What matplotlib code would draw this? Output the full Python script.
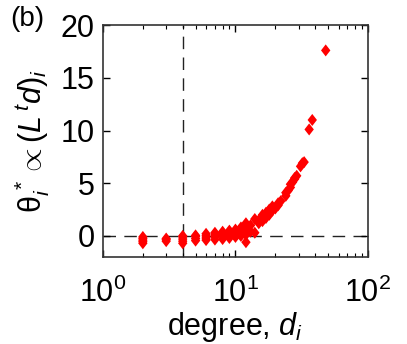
import matplotlib
matplotlib.use("Agg")
import matplotlib.pyplot as plt
from matplotlib.path import Path
import numpy as np

plt.rcParams['font.family'] = ['Liberation Sans', 'DejaVu Sans']
plt.rcParams['mathtext.fontset'] = 'custom'
plt.rcParams['mathtext.rm'] = 'Liberation Sans'
plt.rcParams['mathtext.it'] = 'Liberation Sans:italic'
plt.rcParams['mathtext.sf'] = 'Liberation Sans'

degrees = [2]*5 + [3]*3 + [4]*5 + [5]*4 + [6]*4 + [7]*4 + [8]*4 + [9]*4 + [10]*4 + [11]*4 + [12]*5 \
    + [13, 13, 14, 14, 15, 15, 16, 16, 16, 17, 17, 18, 18, 19, 19, 20, 21, 21, 22, 24, 24, 25,
       26, 26, 27, 28, 28, 29, 31, 32, 33, 36, 38, 48]
values = [-0.7, -0.55, -0.4, -0.25, -0.1,
          -0.5, -0.35, -0.25,
          -0.7, -0.5, -0.3, -0.1, 0.0,
          -0.45, -0.25, -0.05, 0.05,
          -0.4, -0.2, 0.0, 0.2,
          -0.35, -0.1, 0.1, 0.3,
          -0.3, 0.0, 0.2, 0.4,
          -0.2, 0.1, 0.35, 0.5,
          -0.1, 0.2, 0.4, 0.6,
          0.0, 0.3, 0.6, 0.8,
          -0.6, 0.1, 0.5, 0.9, 1.2,
          0.4, 1.0, 0.3, 1.6, 1.2, 1.5, 1.4, 1.8, 2.0, 1.7, 2.2, 2.0, 2.5, 2.4, 2.8, 2.6,
          3.1, 2.9, 3.3, 3.8, 4.1, 4.3, 4.6, 4.9, 5.1, 5.5, 5.4, 5.7, 6.6, 6.9, 7.0,
          10.1, 11.0, 17.6]

vline_x = 4
hline_y = 0

diamond = Path([(0, 1), (0.78, 0), (0, -1), (-0.78, 0), (0, 1)],
               [Path.MOVETO, Path.LINETO, Path.LINETO, Path.LINETO, Path.CLOSEPOLY])

fig = plt.figure(figsize=(4.07, 3.44), dpi=100)
ax = fig.add_axes([0.253, 0.253, 0.651, 0.674])
ax.set_xscale('log')
ax.axhline(hline_y, color='#222222', ls=(0, (9, 6)), lw=1.0, zorder=1)
ax.axvline(vline_x, color='#222222', ls=(0, (9, 6)), lw=1.0, zorder=1)
ax.scatter(degrees, values, marker=diamond, s=75, color='#ff0000', edgecolors='none', zorder=3)

ax.set_xlim(1, 100)
ax.set_ylim(-2, 20)
ax.set_yticks([0, 5, 10, 15, 20])
ax.tick_params(axis='both', which='both', direction='in', top=True, right=True, labelsize=22)
ax.tick_params(which='major', length=5, width=1)
ax.tick_params(which='minor', length=3, width=0.8)
ax.tick_params(axis='x', which='major', pad=15)
ax.tick_params(axis='y', which='major', pad=6)
for s in ax.spines.values():
    s.set_linewidth(1.2)
    s.set_color('#333333')

ax.set_xlabel(r'degree, $d_i$', fontsize=22, labelpad=1)
ax.set_ylabel(r'$\mathrm{θ}_i^{\,*} \propto (L^{\,t} d)_i$', fontsize=22, labelpad=6)
fig.text(0.025, 0.945, '(b)', fontsize=20, ha='left', va='center')

fig.savefig('out.png', dpi=100)
